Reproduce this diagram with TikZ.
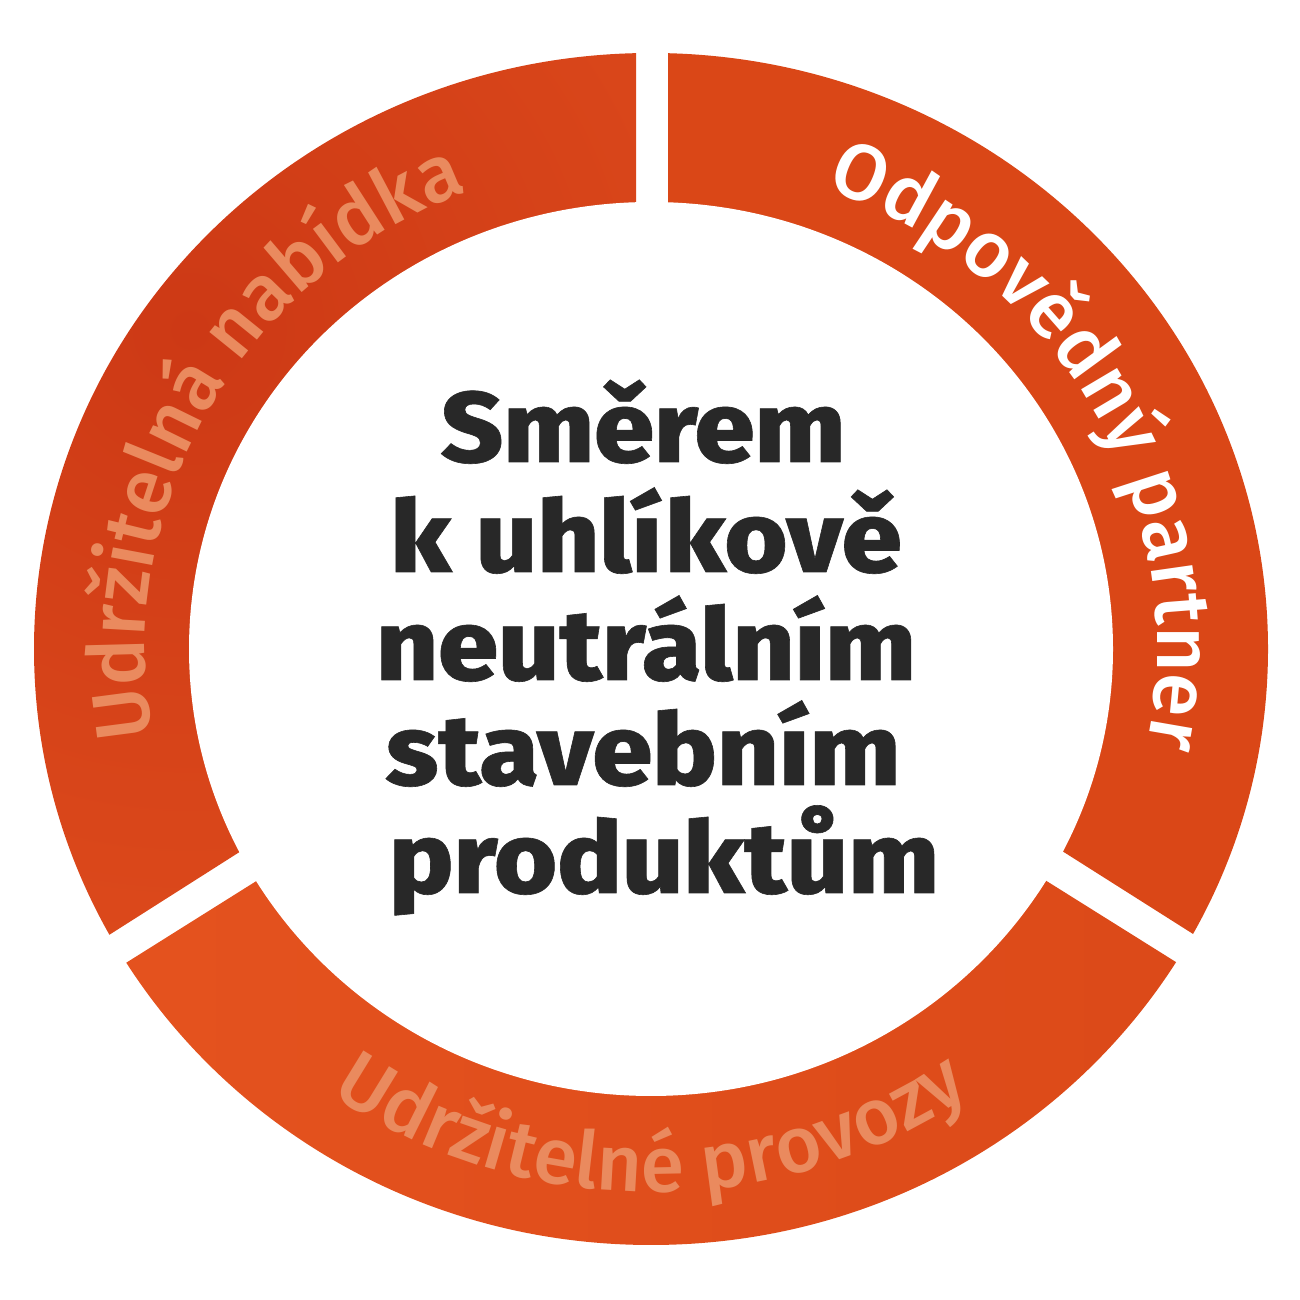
\documentclass[tikz,border=0pt]{standalone}
\usepackage{fontspec}
\setmainfont{Fira Sans}
\newfontfamily\centerfam{Fira Sans ExtraBold}[FakeStretch=1.08, FakeBold=0.6]
\newfontfamily\ringfam{Fira Sans Medium}
\usetikzlibrary{decorations.text}
\definecolor{ringDark}{HTML}{CD3915}
\definecolor{ringLight}{HTML}{E5531F}
\definecolor{ringRight}{HTML}{DA4717}
\definecolor{ringBR}{HTML}{DB4918}
\definecolor{palett}{HTML}{EA8A5E}
\definecolor{centertxt}{HTML}{282828}
\tikzset{
  centerline/.style={anchor=base, inner sep=0pt, text=centertxt, font=\fontsize{100}{100}\selectfont\centerfam},
  ringlabel/.style={decorate, decoration={text along path, text align=center, text color=#1}},
}
\newcommand\ringsize{\fontsize{79}{79}\selectfont\ringfam}
\begin{document}
\begin{tikzpicture}[x=1pt,y=1pt]
\useasboundingbox (0,0) rectangle (1300,1300);
\fill[white] (0,0) rectangle (1300,1300);
\coordinate (C) at (651,651);
% left segment
\begin{scope}
\clip (0,295.7) -- (636,700) -- (636,1300) -- (0,1300) -- cycle;
\clip (C) ellipse [x radius=617, y radius=596];
\shade[inner color=ringDark, outer color=ringLight] (190,970) circle [radius=1000];
\end{scope}
% right segment
\begin{scope}
\clip (1302,297) -- (668,698.7) -- (668,1300) -- (1302,1300) -- cycle;
\clip (C) ellipse [x radius=617, y radius=596];
\fill[ringRight] (600,250) rectangle (1300,1300);
\end{scope}
% bottom segment
\begin{scope}
\clip (0,258) -- (651,666.7) -- (1302,259) -- (1302,0) -- (0,0) -- cycle;
\clip (C) ellipse [x radius=617, y radius=596];
\shade[left color=ringLight, middle color=ringLight, right color=ringBR] (30,40) rectangle (1270,680);
\end{scope}
% inner hole
\fill[white] (C) ellipse [x radius=462, y radius=447];
% ring labels
\path[ringlabel=white, decoration={text={|\ringsize|Odpovědný partner}}]
  (C) ++(89:506 and 491) arc [start angle=89, end angle=-31, x radius=506, y radius=491];
\path[ringlabel=palett, decoration={text={|\ringsize|Udržitelná nabídka}}]
  (C) ++(211:506 and 491) arc [start angle=211, end angle=91, x radius=506, y radius=491];
\path[ringlabel=palett, decoration={text={|\ringsize|Udržitelné provozy}}]
  (C) ++(210:558 and 543) arc [start angle=210, end angle=330, x radius=558, y radius=543];
% center text
\node[centerline] (l1) at (643,838) {Směrem};
\node[centerline] (l2) at (646,728) {k uhlíkově};
\node[centerline] (l3) at (646,620) {neutrálním};
\node[centerline] (l4) at (643,515) {stavebním};
\node[centerline] (l5) at (664,407) {produktům};
\end{tikzpicture}
\end{document}
